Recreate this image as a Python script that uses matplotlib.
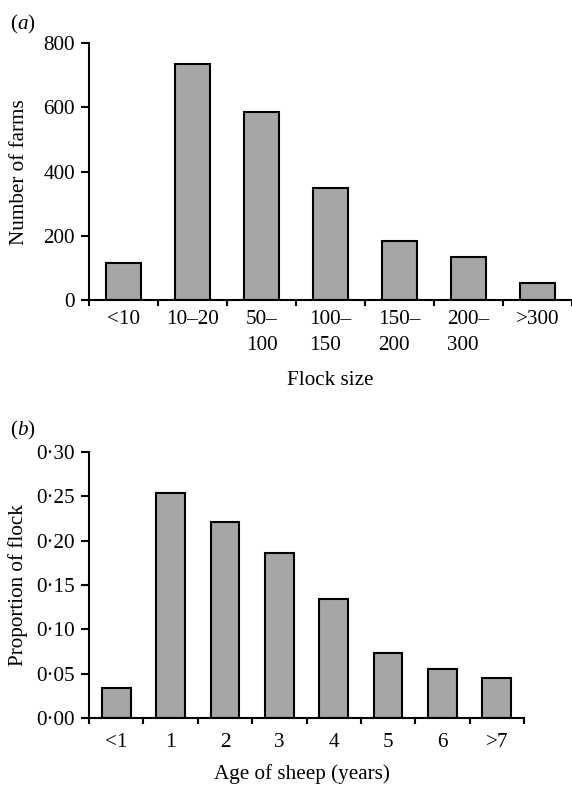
import numpy as np
import matplotlib
matplotlib.use('Agg')
from matplotlib import pyplot as plt

plt.rcParams['font.family'] = ['Liberation Serif', 'DejaVu Serif']
plt.rcParams['mathtext.fontset'] = 'custom'
plt.rcParams['mathtext.rm'] = 'Liberation Serif'
plt.rcParams['mathtext.it'] = 'Liberation Serif:italic'

# panel (a)
flock_sizes = ['<10', '10–20', '50–\n100', '100–\n150', '150–\n200', '200–\n300', '>300']
farms = [114, 735, 586, 348, 185, 135, 52]
farm_ticks = [0, 200, 400, 600, 800]

# panel (b)
ages = ['<1', '1', '2', '3', '4', '5', '6', '>7']
proportion = [0.034, 0.254, 0.221, 0.186, 0.134, 0.074, 0.056, 0.045]
prop_ticks = [0.00, 0.05, 0.10, 0.15, 0.20, 0.25, 0.30]
prop_labels = ['0·00', '0·05', '0·10', '0·15', '0·20', '0·25', '0·30']

FS = 15.2
BAR = '#a6a6a6'
LW = 1.5


def style_axes(ax, n, xmax, pad):
    for side in ('top', 'right'):
        ax.spines[side].set_visible(False)
    for side in ('left', 'bottom'):
        ax.spines[side].set_linewidth(LW)
    ax.set_xlim(-0.5, xmax)
    ax.set_xticks(np.arange(n))
    ax.set_xticks(np.arange(-0.5, n), minor=True)
    ax.tick_params(axis='x', which='major', length=0, pad=pad, labelsize=FS)
    ax.tick_params(axis='x', which='minor', length=4.5, width=LW, direction='out')
    ax.tick_params(axis='y', length=5.5, width=LW, pad=4.5, labelsize=FS)


fig = plt.figure(figsize=(5.72, 7.86), dpi=100)

ax1 = fig.add_axes([0.1556, 0.6183, 0.8444, 0.3266])
x1 = np.arange(len(farms))
ax1.bar(x1, farms, width=0.52, color=BAR, edgecolor='black', linewidth=LW)
ax1.set_ylim(0, 800)
ax1.set_yticks(farm_ticks)
style_axes(ax1, len(farms), 6.4, 7.5)
ax1.set_xticklabels(flock_sizes, multialignment='left', linespacing=1.45)
ax1.set_ylabel('Number of farms', fontsize=FS)
ax1.yaxis.set_label_coords(-0.125, 0.5)
ax1.set_xlabel('Flock size', fontsize=FS, va='top')
ax1.xaxis.set_label_coords(0.5, -0.275)
fig.text(0.018, 1 - 24 / 786, r'($a$)', fontsize=FS, va='center', ha='left')

ax2 = fig.add_axes([0.1556, 0.0861, 0.7605, 0.3392])
x2 = np.arange(len(proportion))
ax2.bar(x2, proportion, width=0.53, color=BAR, edgecolor='black', linewidth=LW)
ax2.set_ylim(0, 0.30)
ax2.set_yticks(prop_ticks)
ax2.set_yticklabels(prop_labels)
style_axes(ax2, len(proportion), 7.5, 10.5)
ax2.set_xticklabels(ages)
ax2.set_ylabel('Proportion of flock', fontsize=FS)
ax2.yaxis.set_label_coords(-0.14, 0.5)
ax2.set_xlabel('Age of sheep (years)', fontsize=FS, va='top')
ax2.xaxis.set_label_coords(0.49, -0.172)
fig.text(0.018, 1 - 430 / 786, r'($b$)', fontsize=FS, va='center', ha='left')

fig.savefig('out.png', dpi=100)
